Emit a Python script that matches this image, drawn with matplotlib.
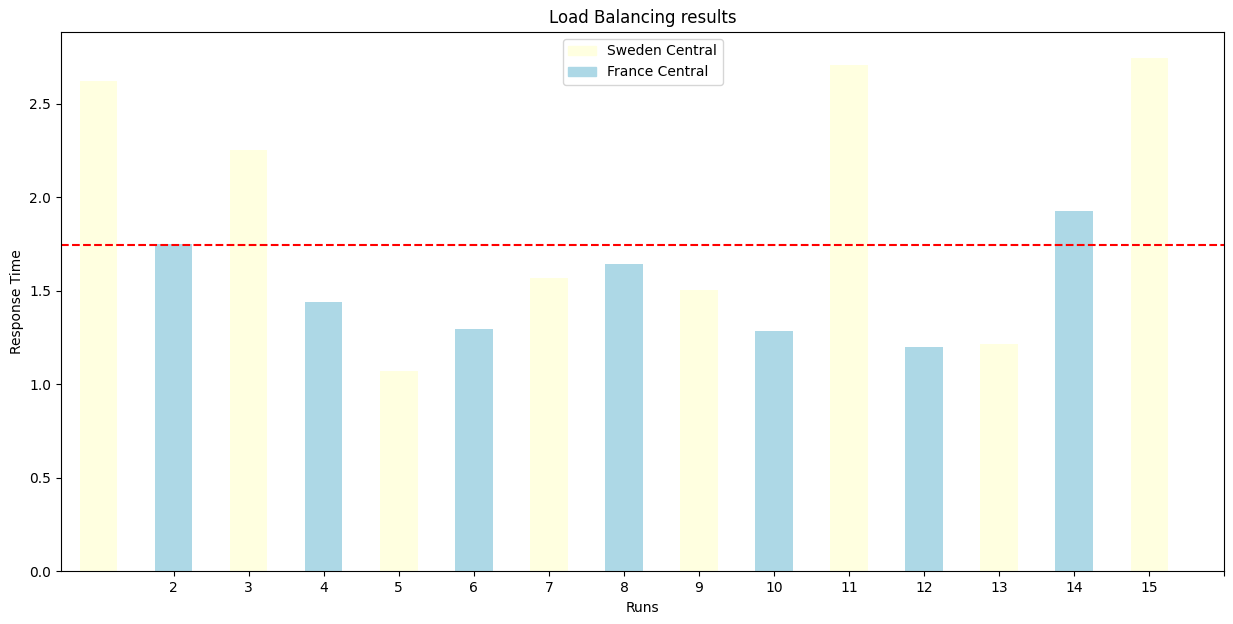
import matplotlib

matplotlib.use("Agg")
import matplotlib.pyplot as plt
from matplotlib.patches import Patch

runs = list(range(1, 16))
response_times = [2.623, 1.747, 2.249, 1.437, 1.068, 1.293, 1.570, 1.640,
                  1.501, 1.282, 2.708, 1.197, 1.213, 1.923, 2.746]
regions = ["Sweden Central", "France Central"] * 7 + ["Sweden Central"]
tick_positions = list(range(2, 17))
tick_labels = [str(r) for r in range(2, 16)] + [""]

region_colors = {"Sweden Central": "lightyellow", "France Central": "lightblue"}
colors = [region_colors[r] for r in regions]
mean_time = sum(response_times) / len(response_times)

fig, ax = plt.subplots(figsize=(12.33, 6.24), dpi=100)
ax.bar(runs, response_times, width=0.5, color=colors)
ax.axhline(mean_time, color="red", linestyle="--")
ax.set_xlim(0.5, 16)
ax.set_xticks(tick_positions)
ax.set_xticklabels(tick_labels)
ax.set_xlabel("Runs")
ax.set_ylabel("Response Time")
ax.set_title("Load Balancing results")
handles = [Patch(color=region_colors[k], label=k) for k in region_colors]
ax.legend(handles=handles, loc="upper center")
plt.subplots_adjust(left=0.0495, right=0.993, top=0.949, bottom=0.0845)
plt.savefig("out.png", dpi=100)
